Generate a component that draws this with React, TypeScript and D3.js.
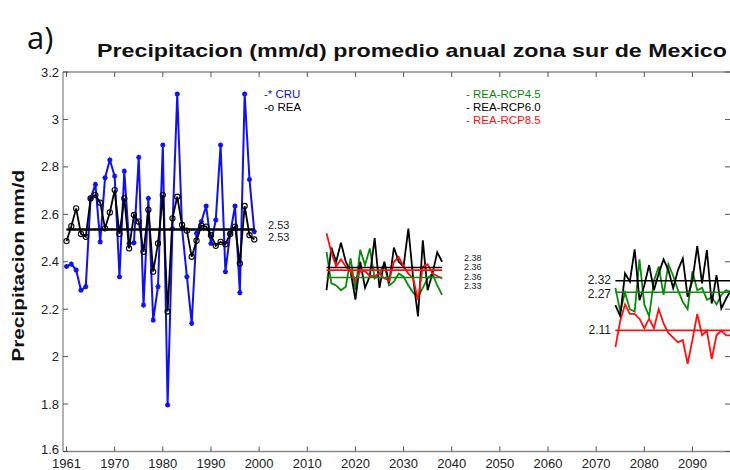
import React from "react";
import * as d3 from "d3";

// Axis tick positions and their labels (the figure labels its first tick "1961")
const xTickValues = [1960, 1970, 1980, 1990, 2000, 2010, 2020, 2030, 2040, 2050, 2060, 2070, 2080, 2090];
const xTickLabels = ["1961", "1970", "1980", "1990", "2000", "2010", "2020", "2030", "2040", "2050", "2060", "2070", "2080", "2090"];
const yTickValues = [1.6, 1.8, 2, 2.2, 2.4, 2.6, 2.8, 3, 3.2];
const yTickLabels = ["1.6", "1.8", "2", "2.2", "2.4", "2.6", "2.8", "3", "3.2"];

// Start positions (on the axis) of each period
const histStart = 1960;
const midStart = 2014;
const futStart = 2074;

// Historical period
const cru = [2.38, 2.39, 2.365, 2.28, 2.295, 2.667, 2.726, 2.484, 2.754, 2.829, 2.761, 2.337, 2.782, 2.477, 2.48, 2.84, 2.217, 2.667, 2.154, 2.295, 2.892, 1.796, 2.54, 3.107, 2.54, 2.337, 2.14, 2.52, 2.569, 2.635, 2.477, 2.576, 2.892, 2.358, 2.52, 2.635, 2.27, 3.107, 2.747, 2.527];
const rea = [2.487, 2.55, 2.625, 2.517, 2.505, 2.667, 2.681, 2.649, 2.541, 2.608, 2.702, 2.517, 2.667, 2.456, 2.597, 2.569, 2.442, 2.619, 2.358, 2.477, 2.681, 2.19, 2.583, 2.674, 2.555, 2.531, 2.421, 2.489, 2.552, 2.548, 2.512, 2.467, 2.484, 2.474, 2.517, 2.548, 2.393, 2.635, 2.512, 2.494];

// Near future
const mid45 = [2.442, 2.309, 2.30, 2.28, 2.295, 2.414, 2.28, 2.45, 2.386, 2.456, 2.33, 2.35, 2.393, 2.30, 2.316, 2.35, 2.337, 2.30, 2.27, 2.25, 2.29, 2.33, 2.35, 2.30, 2.26];
const mid60 = [2.28, 2.46, 2.40, 2.48, 2.40, 2.36, 2.24, 2.40, 2.29, 2.34, 2.50, 2.29, 2.40, 2.31, 2.46, 2.40, 2.38, 2.54, 2.33, 2.17, 2.49, 2.28, 2.35, 2.44, 2.40];
const mid85 = [2.52, 2.44, 2.38, 2.41, 2.38, 2.36, 2.32, 2.36, 2.36, 2.34, 2.34, 2.35, 2.33, 2.32, 2.40, 2.42, 2.38, 2.35, 2.33, 2.24, 2.38, 2.39, 2.35, 2.34, 2.33];

// Far future
const fut45 = [2.29, 2.19, 2.27, 2.20, 2.19, 2.41, 2.22, 2.17, 2.32, 2.38, 2.26, 2.39, 2.34, 2.28, 2.23, 2.20, 2.36, 2.28, 2.29, 2.24, 2.25, 2.22, 2.26, 2.28, 2.27];
const fut60 = [2.217, 2.171, 2.351, 2.316, 2.452, 2.238, 2.30, 2.386, 2.28, 2.351, 2.41, 2.365, 2.288, 2.365, 2.414, 2.252, 2.322, 2.466, 2.309, 2.449, 2.224, 2.344, 2.203, 2.245, 2.28];
const fut85 = [2.04, 2.15, 2.22, 2.18, 2.18, 2.16, 2.12, 2.16, 2.12, 2.20, 2.14, 2.10, 2.08, 2.06, 2.07, 1.97, 2.07, 2.18, 2.09, 2.11, 1.99, 2.09, 2.11, 2.09, 2.09];

// Period means shown as labels
const histMeanLabels = ["2.53", "2.53"];
const midMeanLabels = ["2.38", "2.36", "2.36", "2.33"];
const futMeanLabels = ["2.32", "2.27", "2.11"];

const BLUE = "#1010f0";
const GREEN = "#0a8a0a";
const RED = "#ff1010";
const BLACK = "#000000";

const W = 730;
const H = 470;
const left = 63;
const right = 730;
const top = 72;
const bottom = 451.5;

export default function App() {
  const x = d3.scaleLinear().domain([1959.27, 2097.8]).range([left, right]);
  const y = d3.scaleLinear().domain([1.6, 3.2]).range([bottom, top]);

  const series = (vals: number[], start: number) => vals.map((v, i) => [start + i, v] as [number, number]);
  const line = d3.line<[number, number]>().x((d) => x(d[0])).y((d) => y(d[1]));
  const mean = (a: number[]) => d3.mean(a) as number;

  const cruS = series(cru, histStart);
  const reaS = series(rea, histStart);

  const meanLine = (vals: number[], start: number, color: string, key: string) => {
    const m = mean(vals);
    return (
      <line key={key} x1={x(start)} x2={x(start + vals.length - 1)} y1={y(m)} y2={y(m)} stroke={color} strokeWidth={1.6} />
    );
  };

  const star = (cx: number, cy: number, k: number) => {
    const r = 2.6;
    const d = `M${cx - r},${cy}L${cx + r},${cy}M${cx},${cy - r}L${cx},${cy + r}M${cx - r * 0.7},${cy - r * 0.7}L${cx + r * 0.7},${cy + r * 0.7}M${cx - r * 0.7},${cy + r * 0.7}L${cx + r * 0.7},${cy - r * 0.7}`;
    return <path key={k} d={d} stroke={BLUE} strokeWidth={1.4} />;
  };

  const font = "'Liberation Sans', Arial, Helvetica, sans-serif";

  return (
    <svg width={W} height={H} style={{ position: "absolute", left: 0, top: 0, background: "#fff" }} fontFamily={font}>
      <defs>
        <clipPath id="plotclip">
          <rect x={left} y={top - 10} width={right - left} height={bottom - top + 20} />
        </clipPath>
      </defs>
      <rect x={0} y={0} width={W} height={H} fill="#fff" />

      {/* panel letter and title */}
      <text x={27} y={49} fontFamily="'Open Sans', 'Noto Sans', sans-serif" fontSize={31} fill="#111">a)</text>
      <text x={97} y={57} fontSize={19} fontWeight="bold" fill="#111" textLength={630} lengthAdjust="spacingAndGlyphs">
        Precipitacion (mm/d) promedio anual zona sur de Mexico
      </text>

      {/* axes box */}
      <line x1={left} x2={left} y1={top} y2={bottom} stroke="#8a8a8a" strokeWidth={1.3} />
      <line x1={left} x2={right} y1={bottom} y2={bottom} stroke="#8a8a8a" strokeWidth={1.3} />
      <line x1={left} x2={right} y1={top} y2={top} stroke="#8a8a8a" strokeWidth={1.3} />

      {xTickValues.map((t, i) => (
        <g key={"xt" + i}>
          <line x1={x(t)} x2={x(t)} y1={bottom} y2={bottom - 5} stroke="#555" strokeWidth={1} />
          <line x1={x(t)} x2={x(t)} y1={top} y2={top + 5} stroke="#555" strokeWidth={1} />
          <text x={x(t)} y={bottom + 16.5} fontSize={13} textAnchor="middle" fill="#222">{xTickLabels[i]}</text>
        </g>
      ))}
      {yTickValues.map((t, i) => (
        <g key={"yt" + i}>
          <line x1={left} x2={left + 5} y1={y(t)} y2={y(t)} stroke="#555" strokeWidth={1} />
          <line x1={right - 5} x2={right} y1={y(t)} y2={y(t)} stroke="#555" strokeWidth={1} />
          <text x={left - 4} y={y(t) + (i === 0 ? 2.5 : 4.5)} fontSize={13} textAnchor="end" fill="#222">{yTickLabels[i]}</text>
        </g>
      ))}

      <text transform={`translate(24,${(top + bottom) / 2 + 4}) rotate(-90)`} fontSize={17} fontWeight="bold" textAnchor="middle" fill="#111" textLength={192} lengthAdjust="spacingAndGlyphs">
        Precipitacion mm/d
      </text>

      <g clipPath="url(#plotclip)">
        {/* historical */}
        <path d={line(cruS) || ""} fill="none" stroke={BLUE} strokeWidth={2} />
        {cruS.map((d, i) => star(x(d[0]), y(d[1]), i))}
        <path d={line(reaS) || ""} fill="none" stroke={BLACK} strokeWidth={1.8} />
        {reaS.map((d, i) => (
          <circle key={"r" + i} cx={x(d[0])} cy={y(d[1])} r={2.6} fill="none" stroke={BLACK} strokeWidth={1.1} />
        ))}
        {meanLine(cru, histStart, BLACK, "m1")}
        {meanLine(rea, histStart, BLACK, "m2")}

        {/* near future */}
        <path d={line(series(mid45, midStart)) || ""} fill="none" stroke={GREEN} strokeWidth={1.8} />
        <path d={line(series(mid60, midStart)) || ""} fill="none" stroke={BLACK} strokeWidth={1.8} />
        <path d={line(series(mid85, midStart)) || ""} fill="none" stroke={RED} strokeWidth={1.8} />
        {meanLine(mid60, midStart, BLACK, "m3")}
        {meanLine(mid85, midStart, RED, "m4")}
        {meanLine(mid45, midStart, GREEN, "m5")}

        {/* far future */}
        <path d={line(series(fut45, futStart)) || ""} fill="none" stroke={GREEN} strokeWidth={1.8} />
        <path d={line(series(fut60, futStart)) || ""} fill="none" stroke={BLACK} strokeWidth={1.8} />
        <path d={line(series(fut85, futStart)) || ""} fill="none" stroke={RED} strokeWidth={1.8} />
        {meanLine(fut60, futStart, BLACK, "m6")}
        {meanLine(fut45, futStart, GREEN, "m7")}
        {meanLine(fut85, futStart, RED, "m8")}
      </g>

      {/* mean labels */}
      <text x={268} y={y(mean(cru)) - 1} fontSize={11} fill="#222">{histMeanLabels[0]}</text>
      <text x={268} y={y(mean(rea)) + 11.5} fontSize={11} fill="#222">{histMeanLabels[1]}</text>
      {midMeanLabels.map((l, i) => (
        <text key={"ml" + i} x={464} y={y(mean(mid60)) - 7 + i * 9.5} fontSize={9} fill="#222">{l}</text>
      ))}
      <text x={611} y={y(mean(fut60)) + 3} fontSize={12} textAnchor="end" fill="#222">{futMeanLabels[0]}</text>
      <text x={611} y={y(mean(fut45)) + 6} fontSize={12} textAnchor="end" fill="#222">{futMeanLabels[1]}</text>
      <text x={611} y={y(mean(fut85)) + 4} fontSize={12} textAnchor="end" fill="#222">{futMeanLabels[2]}</text>

      {/* legends */}
      <text x={264} y={98} fontSize={11.5} fill={BLUE}>-* CRU</text>
      <text x={264} y={111} fontSize={11.5} fill={BLACK}>-o REA</text>
      <text x={466} y={98} fontSize={11.5} fill={GREEN}>- REA-RCP4.5</text>
      <text x={466} y={111} fontSize={11.5} fill={BLACK}>- REA-RCP6.0</text>
      <text x={466} y={124} fontSize={11.5} fill={RED}>- REA-RCP8.5</text>
    </svg>
  );
}
